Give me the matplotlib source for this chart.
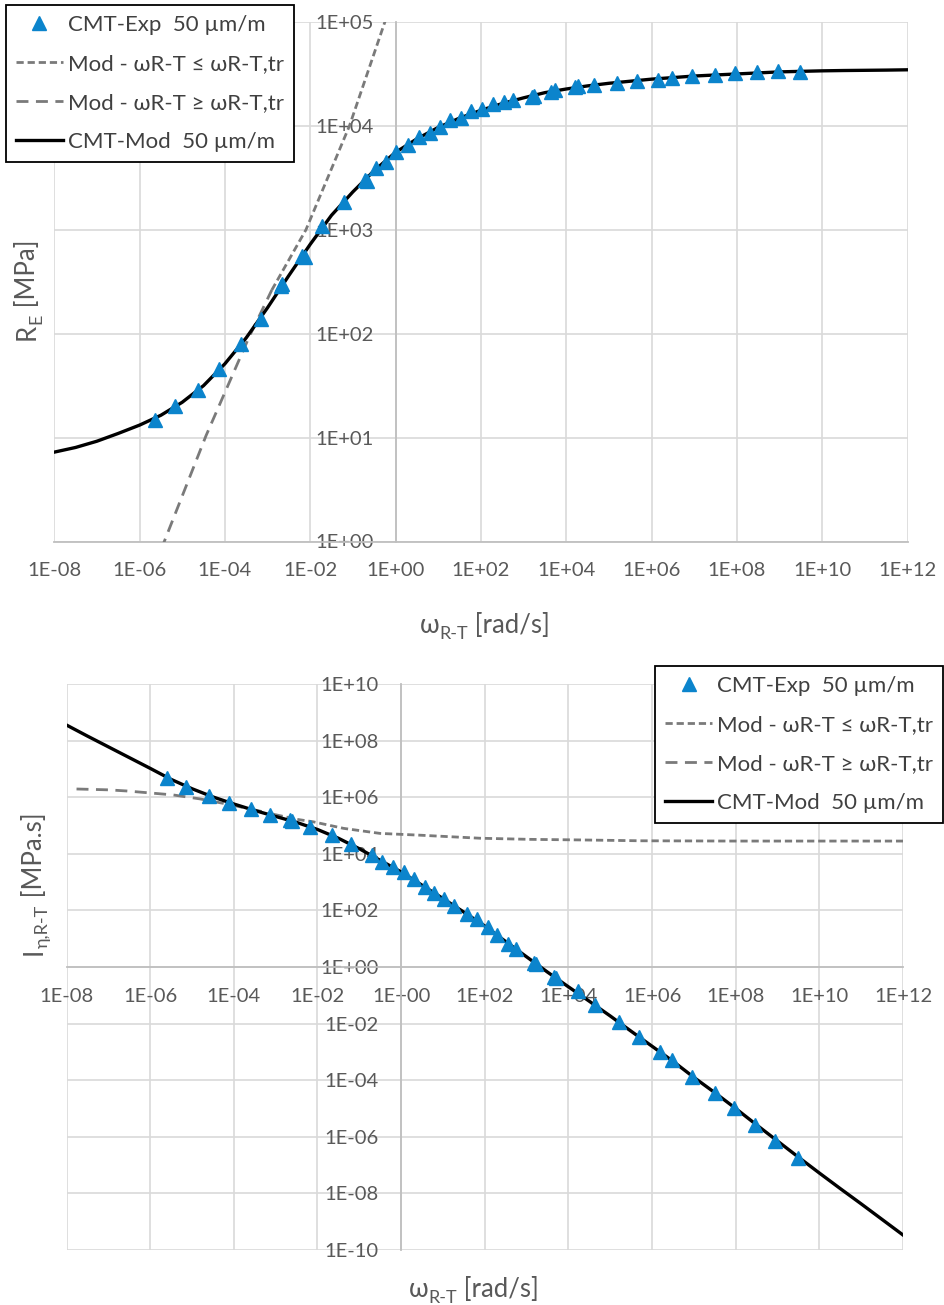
import numpy as np
import matplotlib
matplotlib.use("Agg")
from matplotlib import pyplot as plt
from matplotlib.text import Annotation

plt.rcParams['font.family'] = ['Lato', 'DejaVu Sans']

# values, stored as log10 (omega in rad/s)
# --- top chart: R_E [MPa]
re_exp_logw = [-5.63, -5.16, -4.62, -4.14, -3.62, -3.16, -2.69, -2.65, -2.19, -2.13,
               -1.72, -1.20, -0.71, -0.67, -0.46, -0.22, 0.02, 0.30, 0.55, 0.81,
               1.05, 1.27, 1.54, 1.76, 2.02, 2.28, 2.54, 2.76, 3.20, 3.25,
               3.65, 3.74, 4.21, 4.28, 4.66, 5.18, 5.65, 6.16, 6.47, 6.95,
               7.48, 7.96, 8.47, 8.97, 9.47]
re_exp_logv = [1.17, 1.30, 1.46, 1.66, 1.90, 2.14, 2.46, 2.48, 2.75, 2.74,
               3.04, 3.27, 3.48, 3.47, 3.59, 3.65, 3.75, 3.82, 3.89, 3.93,
               3.99, 4.06, 4.08, 4.14, 4.16, 4.21, 4.23, 4.25, 4.28, 4.29,
               4.33, 4.35, 4.37, 4.38, 4.39, 4.41, 4.435, 4.445, 4.465, 4.48,
               4.49, 4.505, 4.515, 4.525, 4.52]

re_mod_logw = [-8, -7.5, -7, -6.5, -6, -5.5, -5, -4.5, -4, -3.5, -3, -2.5, -2, -1.5,
               -1, -0.5, 0, 0.5, 1, 1.5, 2, 2.5, 3, 3.5, 4, 4.5, 5, 5.5, 6, 6.5,
               7, 7.5, 8, 8.5, 9, 9.5, 10, 10.5, 11, 11.5, 12]
re_mod_logv = [0.86, 0.905, 0.965, 1.04, 1.12, 1.215, 1.34, 1.50, 1.71, 1.96, 2.25, 2.56,
               2.86, 3.14, 3.365, 3.57, 3.745, 3.875, 3.985, 4.075, 4.15, 4.215, 4.27, 4.32,
               4.355, 4.385, 4.41, 4.43, 4.45, 4.465, 4.48, 4.49, 4.50, 4.51, 4.52,
               4.525, 4.53, 4.533, 4.535, 4.537, 4.54]

re_ge_logw = [-5.50, -5.42, -4.44, -3.43, -2.90]   # Mod w >= w_tr (long dash)
re_ge_logv = [-0.08, 0.0, 1.02, 1.97, 2.42]
re_le_logw = [-2.90, -2.10, -1.08, -0.25, -0.17]   # Mod w <= w_tr (short dash)
re_le_logv = [2.42, 3.00, 4.00, 5.00, 5.08]

# --- bottom chart: I_eta,R-T [MPa.s]
im_exp_logw = [-5.60, -5.14, -4.59, -4.11, -3.59, -3.13, -2.65, -2.62, -2.19, -1.66,
               -1.19, -0.70, -0.46, -0.20, 0.06, 0.30, 0.56, 0.79, 1.03, 1.27,
               1.57, 1.81, 2.07, 2.29, 2.56, 2.75, 3.18, 3.22, 3.66, 3.70,
               4.22, 4.64, 5.20, 5.68, 6.18, 6.48, 6.96, 7.50, 7.97, 8.47,
               8.95, 9.48]
im_exp_logv = [6.67, 6.37, 6.04, 5.81, 5.57, 5.37, 5.19, 5.15, 4.94, 4.66,
               4.35, 3.96, 3.72, 3.55, 3.34, 3.10, 2.84, 2.63, 2.39, 2.16,
               1.87, 1.69, 1.40, 1.13, 0.81, 0.63, 0.15, 0.11, -0.34, -0.40,
               -0.85, -1.34, -1.95, -2.46, -2.99, -3.29, -3.88, -4.44, -4.99, -5.58,
               -6.14, -6.76]

im_mod_logw = re_mod_logw
im_mod_logv = [8.55, 8.16, 7.78, 7.40, 7.02, 6.63, 6.30, 6.01, 5.76, 5.53, 5.32, 5.11,
               4.86, 4.55, 4.18, 3.77, 3.36, 2.89, 2.42, 1.94, 1.45, 0.90, 0.36, -0.18,
               -0.70, -1.21, -1.73, -2.27, -2.80, -3.33, -3.90, -4.44, -5.00, -5.58,
               -6.15, -6.72, -7.28, -7.83, -8.37, -8.92, -9.47]

im_ge_logw = [-7.76, -7.0, -6.56, -6.0, -5.45, -4.81, -4.17, -3.5, -3.0]
im_ge_logv = [6.29, 6.26, 6.22, 6.15, 6.08, 5.94, 5.76, 5.55, 5.38]
im_le_logw = [-3.0, -2.5, -2.1, -1.38, -0.5, 0.42, 1.89, 3.09, 4.29, 5.72, 8.0, 12.0]
im_le_logv = [5.38, 5.22, 5.13, 4.90, 4.72, 4.66, 4.55, 4.51, 4.49, 4.46, 4.45, 4.45]

x_exps = list(range(-8, 13, 2))
top_y_exps = list(range(0, 6))
bot_y_exps = list(range(-10, 11, 2))

labels = ['CMT-Exp  50 µm/m', 'Mod - ωR-T ≤ ωR-T,tr', 'Mod - ωR-T ≥ ωR-T,tr',
          'CMT-Mod  50 µm/m']

BLUE = '#0b84cc'
GREY = '#7a7a7a'
TXT = '#595959'
GRID = '#d9d9d9'
W, H = 944, 1305


def p(v):
    return 10.0 ** np.asarray(v, dtype=float)


def sci(e):
    return '1E%+03d' % e


def fx(px):
    return px / W


def fy(py):
    return 1 - py / H


def setup(ax, yexps, xaxis_at_one):
    ax.set_xscale('log')
    ax.set_yscale('log')
    ax.set_xlim(1e-8, 1e12)
    ax.set_ylim(10.0 ** yexps[0], 10.0 ** yexps[-1])
    ax.set_xticks([10.0 ** e for e in x_exps], labels=[sci(e) for e in x_exps])
    ax.set_yticks([10.0 ** e for e in yexps], labels=[sci(e) for e in yexps])
    ax.minorticks_off()
    ax.set_axisbelow(True)
    ax.grid(True, color=GRID, lw=1.2)
    for s in ['top', 'right']:
        ax.spines[s].set_visible(False)
    ax.spines['left'].set_position(('data', 1))
    if xaxis_at_one:
        ax.spines['bottom'].set_position(('data', 1))
    for s in ['left', 'bottom']:
        ax.spines[s].set_color('#bfbfbf')
        ax.spines[s].set_linewidth(1.3)
        ax.spines[s].set_zorder(0.6)
    ax.tick_params(length=0, labelsize=14.5, labelcolor=TXT)
    ax.tick_params(axis='x', pad=15)
    ax.tick_params(axis='y', pad=16)


def draw(ax, exp_w, exp_v, mod_w, mod_v, ge_w, ge_v, le_w, le_v):
    h_ge, = ax.plot(p(ge_w), p(ge_v), color=GREY, lw=2.0, dashes=(4.3, 2.7), zorder=2)
    h_le, = ax.plot(p(le_w), p(le_v), color=GREY, lw=2.0, dashes=(2.6, 1.4), zorder=2)
    h_mod, = ax.plot(p(mod_w), p(mod_v), color='black', lw=2.4, zorder=3,
                     solid_joinstyle='round')
    h_exp, = ax.plot(p(exp_w), p(exp_v), linestyle='none', marker='^', ms=9.5,
                     color=BLUE, zorder=4)
    return [h_exp, h_le, h_ge, h_mod]


def legend(handles, anchor, loc):
    leg = fig.legend(handles, labels, loc=loc, bbox_to_anchor=anchor,
                     bbox_transform=fig.transFigure, fontsize=16, frameon=True,
                     fancybox=False, framealpha=1, edgecolor='black',
                     borderpad=0.45, labelspacing=0.85, handlelength=2.1,
                     handletextpad=0.22, borderaxespad=0)
    leg.get_frame().set_linewidth(1.3)
    for t in leg.get_texts():
        t.set_color('#404040')
    return leg


def sub_label(x, y, main, sub, rest, vertical=False):
    kw = dict(color=TXT, fontsize=18.5, rotation=90 if vertical else 0)
    skw = dict(kw, fontsize=13)
    if vertical:
        t1 = fig.text(fx(x), fy(y), main, ha='right', va='bottom', **kw)
        t2 = Annotation(sub, xy=(1, 1), xycoords=t1, xytext=(3, 0),
                        textcoords='offset points', ha='right', va='bottom', **skw)
        t3 = Annotation(rest, xy=(1, 1), xycoords=(t1, t2), ha='right',
                        va='bottom', **kw)
    else:
        t1 = fig.text(fx(x), fy(y), main, ha='left', va='bottom', **kw)
        t2 = Annotation(sub, xy=(1, 0), xycoords=t1, xytext=(0, -3),
                        textcoords='offset points', ha='left', va='bottom', **skw)
        t3 = Annotation(rest, xy=(1, 0), xycoords=(t2, t1), ha='left',
                        va='bottom', **kw)
    fig.add_artist(t2)
    fig.add_artist(t3)


fig = plt.figure(figsize=(W / 100, H / 100), dpi=100)

ax1 = fig.add_axes([fx(54.2), fy(541.5), (907.5 - 54.2) / W, (541.5 - 22) / H])
setup(ax1, top_y_exps, False)
hs = draw(ax1, re_exp_logw, re_exp_logv, re_mod_logw, re_mod_logv,
          re_ge_logw, re_ge_logv, re_le_logw, re_le_logv)
legend(hs, (fx(6), fy(5)), 'upper left')

ax2 = fig.add_axes([fx(66.5), fy(1250), (903 - 66.5) / W, (1250 - 684) / H])
setup(ax2, bot_y_exps, True)
hs = draw(ax2, im_exp_logw, im_exp_logv, im_mod_logw, im_mod_logv,
          im_ge_logw, im_ge_logv, im_le_logw, im_le_logv)
legend(hs, (fx(943), fy(666)), 'upper right')

sub_label(420, 638, 'ω', 'R-T', ' [rad/s]')
sub_label(409, 1302, 'ω', 'R-T', ' [rad/s]')
sub_label(40, 340, 'R', 'E', ' [MPa]', vertical=True)
sub_label(47, 955, 'I', 'η,R-T', ' [MPa.s]', vertical=True)

fig.savefig('out.png', dpi=100)
